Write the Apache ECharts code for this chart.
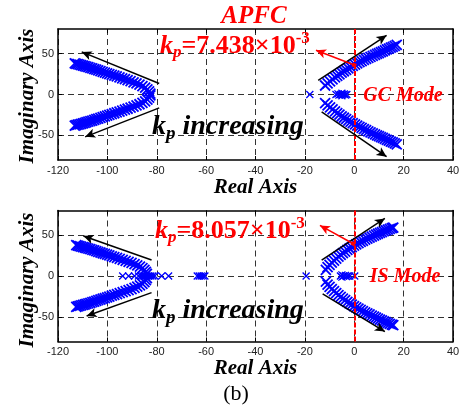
<!DOCTYPE html>
<html>
<head>
<meta charset="utf-8">
<script src="https://cdn.jsdelivr.net/npm/echarts@6/dist/echarts.min.js"></script>
<style>
  html, body { margin: 0; padding: 0; background: #fff; }
  #chart { width: 463px; height: 411px; }
</style>
</head>
<body>
<div id="chart"></div>
<script>
// Axis ranges and tick values
const realRange = [-120, 40];
const realStep = 20;
const imagRange = [-80, 80];
const imagTicks = [-50, 0, 50];

// GC mode root locus (real, imaginary)
const gcLeftUpper = [[-82.6,1.2],[-83.1,3.8],[-83.8,6.2],[-84.7,8.4],[-85.8,10.3],[-87.0,12.0],[-88.2,13.5],[-89.4,14.9],[-90.6,16.2],[-91.8,17.5],[-92.9,18.7],[-94.0,19.8],[-95.1,20.9],[-96.2,22.0],[-97.2,23.0],[-98.2,24.0],[-99.2,25.0],[-100.1,25.9],[-101.0,26.8],[-101.9,27.7],[-102.8,28.6],[-103.7,29.5],[-104.5,30.3],[-105.3,31.1],[-106.1,31.9],[-106.9,32.6],[-107.7,33.3],[-108.5,34.0],[-109.2,34.7],[-109.9,35.3],[-110.6,35.9],[-111.3,36.5],[-112.0,37.0],[-112.6,37.5],[-113.2,38.0]];
const gcLeftLower = [[-82.6,-1.2],[-83.1,-3.8],[-83.8,-6.2],[-84.7,-8.4],[-85.8,-10.3],[-87.0,-11.9],[-88.2,-13.4],[-89.4,-14.8],[-90.6,-16.1],[-91.8,-17.4],[-92.9,-18.6],[-94.0,-19.7],[-95.1,-20.8],[-96.2,-21.9],[-97.2,-22.9],[-98.2,-23.9],[-99.2,-24.9],[-100.1,-25.8],[-101.0,-26.7],[-101.9,-27.6],[-102.8,-28.5],[-103.7,-29.4],[-104.5,-30.2],[-105.3,-31.0],[-106.1,-31.8],[-106.9,-32.5],[-107.7,-33.2],[-108.5,-33.9],[-109.2,-34.6],[-109.9,-35.2],[-110.6,-35.8],[-111.3,-36.4],[-112.0,-36.9],[-112.6,-37.4],[-113.2,-37.9]];
const gcRightUpper = [[-11.8,11.0],[-10.8,13.6],[-9.8,16.1],[-8.8,18.5],[-7.8,20.8],[-6.9,22.8],[-6.0,24.7],[-5.1,26.6],[-4.2,28.4],[-3.3,30.1],[-2.4,31.8],[-1.5,33.4],[-0.6,35.0],[0.3,36.6],[1.2,38.1],[2.1,39.5],[3.0,40.9],[3.9,42.2],[4.8,43.5],[5.7,44.8],[6.6,46.0],[7.5,47.2],[8.4,48.4],[9.2,49.5],[10.0,50.6],[10.8,51.7],[11.6,52.8],[12.4,53.9],[13.2,55.0],[14.0,56.1],[14.8,57.2],[15.6,58.3],[16.4,59.4],[17.2,60.5]];
const gcRightLower = [[-11.8,-10.5],[-10.8,-13.2],[-9.8,-15.8],[-8.8,-18.3],[-7.8,-20.6],[-6.9,-22.7],[-6.0,-24.7],[-5.1,-26.6],[-4.2,-28.4],[-3.3,-30.1],[-2.4,-31.8],[-1.5,-33.4],[-0.6,-35.0],[0.3,-36.6],[1.2,-38.1],[2.1,-39.5],[3.0,-40.9],[3.9,-42.3],[4.8,-43.6],[5.7,-44.9],[6.6,-46.2],[7.5,-47.4],[8.4,-48.6],[9.2,-49.8],[10.0,-50.9],[10.8,-52.0],[11.6,-53.1],[12.4,-54.2],[13.2,-55.3],[14.0,-56.4],[14.8,-57.5],[15.6,-58.6],[16.4,-59.7],[17.2,-60.8]];
const gcRealRoots = [[-18,0],[-7.4,0],[-6.6,0.8],[-6.2,-0.8],[-5.6,0],[-5.0,1.6],[-5.0,-1.6],[-4.6,0],[-4.0,0.6],[-3.6,-0.6],[-3.0,0]];

// IS mode root locus (real, imaginary)
const isLeftUpper = [[-84.0,2.5],[-84.4,5.0],[-85.0,7.4],[-85.8,9.6],[-86.8,11.4],[-87.9,13.0],[-89.0,14.5],[-90.2,15.9],[-91.4,17.2],[-92.6,18.5],[-93.8,19.7],[-95.0,20.9],[-96.1,22.0],[-97.2,23.1],[-98.2,24.1],[-99.2,25.1],[-100.1,26.0],[-101.0,26.9],[-101.9,27.8],[-102.8,28.7],[-103.7,29.6],[-104.5,30.4],[-105.3,31.2],[-106.1,32.0],[-106.9,32.7],[-107.7,33.4],[-108.5,34.1],[-109.2,34.8],[-109.9,35.4],[-110.6,36.0],[-111.3,36.6],[-112.0,37.1],[-112.6,37.6]];
const isLeftLower = [[-84.0,-2.5],[-84.4,-5.0],[-85.0,-7.4],[-85.8,-9.6],[-86.8,-11.4],[-87.9,-13.0],[-89.0,-14.5],[-90.2,-15.9],[-91.4,-17.2],[-92.6,-18.5],[-93.8,-19.7],[-95.0,-20.9],[-96.1,-22.0],[-97.2,-23.1],[-98.2,-24.1],[-99.2,-25.1],[-100.1,-26.0],[-101.0,-26.9],[-101.9,-27.8],[-102.8,-28.7],[-103.7,-29.6],[-104.5,-30.4],[-105.3,-31.2],[-106.1,-32.0],[-106.9,-32.7],[-107.7,-33.4],[-108.5,-34.1],[-109.2,-34.8],[-109.9,-35.4],[-110.6,-36.0],[-111.3,-36.6],[-112.0,-37.1],[-112.6,-37.6]];
const isRightUpper = [[-11.5,7.5],[-10.8,10.8],[-10.0,13.6],[-9.1,16.3],[-8.2,18.9],[-7.3,21.3],[-6.4,23.6],[-5.5,25.8],[-4.6,27.9],[-3.7,29.9],[-2.8,31.8],[-1.9,33.6],[-1.0,35.3],[-0.1,37.0],[0.8,38.6],[1.7,40.1],[2.6,41.6],[3.5,43.0],[4.4,44.4],[5.3,45.7],[6.2,47.0],[7.1,48.2],[8.0,49.4],[8.8,50.5],[9.6,51.6],[10.4,52.7],[11.2,53.7],[12.0,54.7],[12.8,55.7],[13.6,56.7],[14.4,57.6],[15.2,58.5],[15.8,59.2]];
const isRightLower = [[-11.5,-7.0],[-10.8,-10.4],[-10.0,-13.3],[-9.1,-16.0],[-8.2,-18.6],[-7.3,-21.0],[-6.4,-23.3],[-5.5,-25.5],[-4.6,-27.6],[-3.7,-29.6],[-2.8,-31.5],[-1.9,-33.3],[-1.0,-35.0],[-0.1,-36.7],[0.8,-38.3],[1.7,-39.9],[2.6,-41.4],[3.5,-42.9],[4.4,-44.3],[5.3,-45.7],[6.2,-47.0],[7.1,-48.3],[8.0,-49.6],[8.8,-50.8],[9.6,-52.0],[10.4,-53.2],[11.2,-54.3],[12.0,-55.4],[12.8,-56.5],[13.6,-57.5],[14.4,-58.5],[15.2,-59.4],[15.8,-60.1]];
const isRealRoots = [[-93.8,0],[-91.4,0],[-89.0,0],[-87.4,0],[-86.4,0],[-85.6,0],[-84.8,0],[-84.0,0],[-83.2,0],[-82.4,0],[-81.6,0],[-80.8,0],[-78.0,0],[-75.2,0],[-63.6,0],[-62.8,0],[-62.0,0],[-61.2,0],[-60.5,0],[-19.5,0],[-5.6,0],[-5.0,1.4],[-5.0,-1.4],[-4.4,0],[-3.6,0.7],[-3.2,-0.7],[-2.6,0],[-1.8,0],[0.2,0]];

// Direction arrows (start, end) in the s-plane
const gcArrows = [[[-79,13.4],[-110.4,52]], [[-79,-16.3],[-109,-51.7]], [[-14.6,17.4],[13.1,72.3]], [[-13.2,-21.2],[13.1,-76]]];
const gcPointer = [[0,36],[-15.5,54]];
const isArrows = [[[-82.1,19.5],[-109.7,48.8]], [[-82.1,-20.3],[-108.4,-48.8]], [[-13.2,19.5],[12.4,70.3]], [[-12.8,-21.7],[12.4,-67.9]]];
const isPointer = [[-0.4,39.4],[-13.9,61.8]];

// Text
const titleText = 'APFC';
const gcGain = '7.438';
const isGain = '8.057';
const realName = 'Real Axis';
const imagName = 'Imaginary Axis';

const SERIF = 'Liberation Serif, Times New Roman, serif';
const SANS = 'Liberation Sans, Arial, sans-serif';
const RED = '#ff0000';
const BLUE = '#0000ff';

const grids = [
  { left: 58, top: 29, width: 395, height: 131 },
  { left: 58, top: 210.5, width: 395, height: 131 }
];

function xAxes(gi) {
  const base = {
    gridIndex: gi, type: 'value', min: realRange[0], max: realRange[1], interval: realStep,
    axisLine: { show: true, onZero: false, lineStyle: { color: '#000', width: 1.5 } },
    axisTick: { show: true, inside: true, length: 4, lineStyle: { color: '#000', width: 1 } }
  };
  return [
    Object.assign({}, base, {
      position: 'bottom',
      axisLabel: { show: true, color: '#222', fontFamily: SANS, fontSize: 11, margin: 5 },
      splitLine: { show: true, lineStyle: { color: '#333', width: 1, type: [6, 4] } },
      name: realName, nameLocation: 'middle', nameGap: 15,
      nameTextStyle: { color: '#000', fontFamily: SERIF, fontSize: 21, fontWeight: 'bold', fontStyle: 'italic' }
    }),
    Object.assign({}, base, {
      position: 'top',
      axisLabel: { show: false },
      splitLine: { show: false }
    })
  ];
}

function yAxes(gi) {
  const base = {
    gridIndex: gi, type: 'value', min: imagRange[0], max: imagRange[1],
    axisLine: { show: true, onZero: false, lineStyle: { color: '#000', width: 1.5 } },
    axisTick: { show: true, inside: true, length: 4, customValues: imagTicks, lineStyle: { color: '#000', width: 1 } }
  };
  return [
    Object.assign({}, base, {
      position: 'left',
      axisLabel: { show: true, customValues: imagTicks, color: '#222', fontFamily: SANS, fontSize: 11, margin: 4 },
      splitLine: { show: true, lineStyle: { color: '#333', width: 1, type: [6, 4] } }
    }),
    Object.assign({}, base, {
      position: 'right',
      axisLabel: { show: false },
      splitLine: { show: false }
    })
  ];
}

const crossSymbol = 'path://M0,0L10,10M10,0L0,10';

function rootSeries(gi, data, size, lw) {
  return {
    type: 'scatter', xAxisIndex: gi * 2, yAxisIndex: gi * 2, data: data,
    symbol: crossSymbol, symbolSize: size,
    itemStyle: { color: 'rgba(0,0,0,0)', borderColor: BLUE, borderWidth: lw, opacity: 1 },
    silent: true, z: 3
  };
}

function arrowPair(pair, color, startSymbol) {
  return [
    { coord: pair[0], symbol: startSymbol || 'none', symbolSize: 4, itemStyle: { color: color },
      lineStyle: { color: color, width: 1.5, type: 'solid' } },
    { coord: pair[1], symbol: 'arrow', symbolSize: [7, 10], itemStyle: { color: color } }
  ];
}

function annotationSeries(gi, arrows, pointer) {
  const pairs = arrows.map(a => arrowPair(a, '#000'));
  pairs.push(arrowPair(pointer, RED, 'rect'));
  return {
    type: 'line', xAxisIndex: gi * 2, yAxisIndex: gi * 2, data: [], silent: true, z: 5,
    markLine: {
      silent: true, animation: false, precision: 4,
      symbol: ['none', 'none'],
      label: { show: false },
      emphasis: { disabled: true },
      lineStyle: { type: 'solid' },
      data: [
        { xAxis: 0, lineStyle: { color: RED, width: 2, type: [5, 2] } }
      ].concat(pairs)
    }
  };
}

function gainText(value, left, top) {
  return {
    type: 'text', left: left, top: top, z: 20,
    style: {
      text: '{k|k}{p|p}{m|=' + value + '×10}{e|-3}',
      rich: {
        k: { fontFamily: SERIF, fontSize: 26, fontStyle: 'italic', fontWeight: 'bold', fill: RED },
        p: { fontFamily: SERIF, fontSize: 17, fontStyle: 'italic', fontWeight: 'bold', fill: RED, padding: [12, 0, 0, 0] },
        m: { fontFamily: SERIF, fontSize: 26, fontWeight: 'bold', fill: RED },
        e: { fontFamily: SERIF, fontSize: 17, fontWeight: 'bold', fill: RED, padding: [0, 0, 16, 0] }
      }
    }
  };
}

function increasingText(left, top) {
  return {
    type: 'text', left: left, top: top, z: 20,
    style: {
      text: '{k|k}{p|p}{m| increasing}',
      rich: {
        k: { fontFamily: SERIF, fontSize: 28, fontStyle: 'italic', fontWeight: 'bold', fill: '#000' },
        p: { fontFamily: SERIF, fontSize: 19, fontStyle: 'italic', fontWeight: 'bold', fill: '#000', padding: [14, 0, 0, 0] },
        m: { fontFamily: SERIF, fontSize: 28, fontStyle: 'italic', fontWeight: 'bold', fill: '#000' }
      }
    }
  };
}

function modeText(text, cx, cy) {
  return {
    type: 'text', x: cx, y: cy, z: 20,
    style: {
      text: text, fill: RED, fontFamily: SERIF, fontSize: 20, fontStyle: 'italic', fontWeight: 'bold',
      align: 'center', verticalAlign: 'middle'
    }
  };
}

function imagLabel(cy) {
  return {
    type: 'text', x: 28, y: cy, rotation: Math.PI / 2, z: 20,
    style: {
      text: imagName, fill: '#000', fontFamily: SERIF, fontSize: 21, fontStyle: 'italic', fontWeight: 'bold',
      align: 'center', verticalAlign: 'middle'
    }
  };
}

const option = {
  animation: false,
  backgroundColor: '#fff',
  grid: grids.map(g => Object.assign({ show: false, containLabel: false }, g)),
  xAxis: xAxes(0).concat(xAxes(1)),
  yAxis: yAxes(0).concat(yAxes(1)),
  series: [
    rootSeries(0, gcLeftUpper, 10, 1.8), rootSeries(0, gcLeftLower, 10, 1.8),
    rootSeries(0, gcRightUpper, 10, 1.8), rootSeries(0, gcRightLower, 10, 1.8),
    rootSeries(0, gcRealRoots, 7, 1.3),
    rootSeries(1, isLeftUpper, 10, 1.8), rootSeries(1, isLeftLower, 10, 1.8),
    rootSeries(1, isRightUpper, 10, 1.8), rootSeries(1, isRightLower, 10, 1.8),
    rootSeries(1, isRealRoots, 7, 1.3),
    annotationSeries(0, gcArrows, gcPointer),
    annotationSeries(1, isArrows, isPointer)
  ],
  graphic: [
    {
      type: 'text', x: 254, y: 17, z: 20,
      style: { text: titleText, fill: RED, fontFamily: SERIF, fontSize: 25, fontStyle: 'italic', fontWeight: 'bold', align: 'center', verticalAlign: 'middle' }
    },
    gainText(gcGain, 160, 30),
    gainText(isGain, 155, 215),
    increasingText(152, 113),
    increasingText(152, 297),
    modeText('GC Mode', 403, 96),
    modeText('IS Mode', 405, 277),
    imagLabel(96),
    imagLabel(280),
    {
      type: 'text', x: 236, y: 394, z: 20,
      style: { text: '(b)', fill: '#000', fontFamily: SERIF, fontSize: 22, align: 'center', verticalAlign: 'middle' }
    }
  ]
};

const chart = echarts.init(document.getElementById('chart'), null, { renderer: 'canvas' });
chart.setOption(option);
</script>
</body>
</html>
